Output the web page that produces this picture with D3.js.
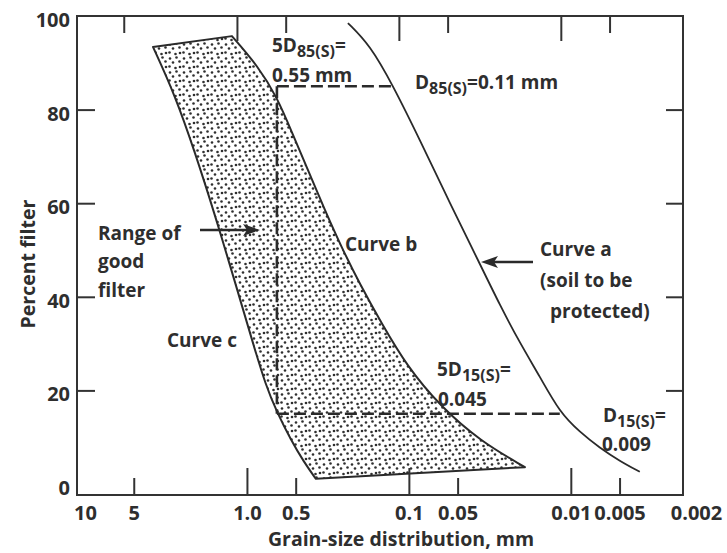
<!DOCTYPE html>
<html>
<head>
<meta charset="utf-8">
<script src="https://cdn.jsdelivr.net/npm/d3@7"></script>
<style>
  body { margin: 0; background: #fff; }
  svg text { font-family: "Open Sans", sans-serif; font-weight: 700; fill: #2e2e2e; }
</style>
</head>
<body>
<svg id="chart" width="727" height="553"></svg>
<script>
// grain size in mm (log axis, coarse on the left) vs percent finer
var sizeTicks = [10, 5, 1.0, 0.5, 0.1, 0.05, 0.01, 0.005, 0.002];
var sizeTickLabels = ["10", "5", "1.0", "0.5", "0.1", "0.05", "0.01", "0.005", "0.002"];
var pctTicks = [0, 20, 40, 60, 80, 100];

// curve a - soil to be protected
var curveASize = [0.238, 0.174, 0.1256, 0.0855, 0.0558, 0.0364, 0.0274, 0.0206, 0.0155, 0.0117, 0.0088, 0.00662, 0.00498, 0.00375];
var curveAPct  = [98.5, 93.8, 85.2, 73.5, 60.0, 47.0, 38.2, 30.1, 22.9, 15.3, 11.1, 7.7, 4.9, 2.6];

// curve b - fine side of the filter band
var curveBSize = [1.238, 0.855, 0.653, 0.528, 0.420, 0.330, 0.259, 0.2007, 0.1468, 0.1029, 0.0644, 0.0364, 0.0192];
var curveBPct  = [95.7, 89.3, 82.7, 75.2, 67.1, 58.5, 50.4, 42.7, 34.2, 25.2, 16.7, 9.2, 3.6];

// curve c - coarse side of the filter band
var curveCSize = [3.804, 2.783, 2.094, 1.576, 1.186, 0.931, 0.763, 0.653, 0.535, 0.445, 0.375];
var curveCPct  = [93.4, 83.1, 70.9, 57.5, 43.2, 30.8, 20.9, 15.4, 9.4, 4.7, 1.1];

// construction lines
var filterSize = 0.653;   // 5 x D85(S) and 5 x D15(S) drawn on one vertical
var soilD85 = 0.1256, soilD15 = 0.0117;
var pct85 = 85, pct15 = 15;

var svg = d3.select("#chart");
var ink = "#2a2a2a";

var x = d3.scaleLog().domain([10, 0.002]).range([85, 684]);
var xTop = x.copy().range([75, 674]);   // top ticks sit a little left in the scan
var y = d3.scaleLinear().domain([0, 100]).range([484, 16]);

var frame = {left: 77, top: 16, right: 683, bottom: 495};

var zip = function (xs, ys) {
    return xs.map(function (v, i) { return [v, ys[i]]; });
};

var line = d3.line()
    .x(function (d) { return x(d[0]); })
    .y(function (d) { return y(d[1]); })
    .curve(d3.curveBasis);

// dot texture for the filter band
var defs = svg.append("defs");
var pat = defs.append("pattern")
    .attr("id", "dots")
    .attr("patternUnits", "userSpaceOnUse")
    .attr("width", 14).attr("height", 14);
pat.append("rect").attr("width", 14).attr("height", 14).attr("fill", "#fff");
[[2, 2.5], [8.5, 1.5], [5, 6.5], [11.5, 5.5], [12, 11], [1.5, 10.5], [7.5, 12]].forEach(function (p) {
    pat.append("circle").attr("cx", p[0]).attr("cy", p[1]).attr("r", 1.3).attr("fill", "#2f2f2f");
});

// band: curve c top->bottom, straight bottom edge, curve b bottom->top, straight top edge
var cPts = zip(curveCSize, curveCPct);
var bPts = zip(curveBSize, curveBPct).reverse();
var bandPath = line(cPts) + line(bPts).replace(/^M/, "L") + "Z";

svg.append("path")
    .attr("d", bandPath)
    .attr("fill", "url(#dots)")
    .attr("stroke", ink)
    .attr("stroke-width", 2)
    .attr("stroke-linejoin", "round");

// curve a
svg.append("path")
    .attr("d", line(zip(curveASize, curveAPct)))
    .attr("fill", "none")
    .attr("stroke", ink)
    .attr("stroke-width", 1.8);

// dashed construction lines
var dashed = [
    [[filterSize, pct85], [soilD85, pct85]],
    [[filterSize, pct85], [filterSize, pct15]],
    [[filterSize, pct15], [soilD15, pct15]]
];
svg.selectAll(".dash")
    .data(dashed)
    .enter().append("line")
    .attr("class", "dash")
    .attr("x1", function (d) { return x(d[0][0]); })
    .attr("y1", function (d) { return y(d[0][1]); })
    .attr("x2", function (d) { return x(d[1][0]); })
    .attr("y2", function (d) { return y(d[1][1]); })
    .attr("stroke", ink)
    .attr("stroke-width", 2.6)
    .attr("stroke-dasharray", "12,5");

// frame
svg.append("rect")
    .attr("x", frame.left).attr("y", frame.top)
    .attr("width", frame.right - frame.left)
    .attr("height", frame.bottom - frame.top)
    .attr("fill", "none")
    .attr("stroke", "#333")
    .attr("stroke-width", 2);

var innerTicks = sizeTicks.slice(1, -1);
var isDecade = function (d) { return Math.abs(Math.log10(d) - Math.round(Math.log10(d))) < 1e-6; };

// bottom inner ticks
var gb = svg.append("g")
    .attr("transform", "translate(0," + frame.bottom + ")")
    .call(d3.axisTop(x).tickValues(innerTicks).tickFormat(""));
gb.selectAll(".tick line").attr("y2", function (d) { return isDecade(d) ? -27 : -17; });

// top inner ticks
var gt = svg.append("g")
    .attr("transform", "translate(0," + frame.top + ")")
    .call(d3.axisBottom(xTop).tickValues(innerTicks).tickFormat(""));
gt.selectAll(".tick line").attr("y2", function (d) { return isDecade(d) ? 25 : 17; });

// left / right inner ticks
var innerPct = pctTicks.slice(1, -1);
svg.append("g")
    .attr("transform", "translate(" + frame.left + ",0)")
    .call(d3.axisRight(y).tickValues(innerPct).tickSize(18).tickFormat(""));
svg.append("g")
    .attr("transform", "translate(" + frame.right + ",0)")
    .call(d3.axisLeft(y).tickValues(innerPct).tickSize(17).tickFormat(""));

svg.selectAll(".domain").remove();
svg.selectAll(".tick line").attr("stroke", "#333").attr("stroke-width", 2);

// tick labels
var gxl = svg.append("g")
    .attr("transform", "translate(0," + frame.bottom + ")")
    .call(d3.axisBottom(x).tickValues(sizeTicks).tickSize(0).tickPadding(11)
        .tickFormat(function (d, i) { return sizeTickLabels[i]; }));
gxl.select(".domain").remove();
gxl.selectAll("text").style("font-size", "20px").attr("fill", null)
    .attr("dx", function (d) { return d === 0.002 ? 12 : 0; });

var gyl = svg.append("g")
    .attr("transform", "translate(" + frame.left + ",0)")
    .call(d3.axisLeft(y).tickValues(pctTicks).tickSize(0).tickPadding(7));
gyl.select(".domain").remove();
gyl.selectAll("text").style("font-size", "20px").attr("fill", null).attr("dy", "0.52em");

// axis titles
svg.append("text")
    .attr("x", 401).attr("y", 546)
    .attr("text-anchor", "middle")
    .style("font-size", "19.5px")
    .text("Grain-size distribution, mm");
svg.append("text")
    .attr("transform", "translate(35,264) rotate(-90)")
    .attr("text-anchor", "middle")
    .style("font-size", "19.5px")
    .text("Percent filter");

// annotations
var note = function (px, py, parts) {
    var t = svg.append("text").attr("x", px).attr("y", py).style("font-size", "19px");
    parts.forEach(function (p) {
        var s = t.append("tspan").text(p[0]);
        if (p[1] === "sub") s.style("font-size", "16px").attr("dy", 5);
        if (p[1] === "up") s.attr("dy", -5);
    });
    return t;
};

note(272, 52, [["5D"], ["85(S)", "sub"], ["=", "up"]]);
note(272, 82, [["0.55 mm"]]);
note(415, 89, [["D"], ["85(S)", "sub"], ["=0.11 mm", "up"]]);
note(98, 240, [["Range of"]]);
note(98, 268, [["good"]]);
note(98, 297, [["filter"]]);
note(345, 251, [["Curve b"]]);
note(540, 256, [["Curve a"]]);
note(540, 287, [["(soil to be"]]);
note(550, 318, [["protected)"]]);
note(167, 347, [["Curve c"]]);
note(437, 376, [["5D"], ["15(S)", "sub"], ["=", "up"]]);
note(438, 406, [["0.045"]]);
note(603, 422, [["D"], ["15(S)", "sub"], ["=", "up"]]);
note(602, 451, [["0.009"]]);

// arrows
var arrow = function (x1, x2, yy) {
    var dir = x2 > x1 ? 1 : -1;
    svg.append("line")
        .attr("x1", x1).attr("y1", yy)
        .attr("x2", x2 - dir * 10).attr("y2", yy)
        .attr("stroke", ink).attr("stroke-width", 2.5);
    svg.append("path")
        .attr("d", "M" + x2 + "," + yy +
            "L" + (x2 - dir * 17) + "," + (yy - 6) +
            "L" + (x2 - dir * 13) + "," + yy +
            "L" + (x2 - dir * 17) + "," + (yy + 6) + "Z")
        .attr("fill", ink);
};
arrow(200, 260, 230);
arrow(533, 481, 262);
</script>
</body>
</html>
